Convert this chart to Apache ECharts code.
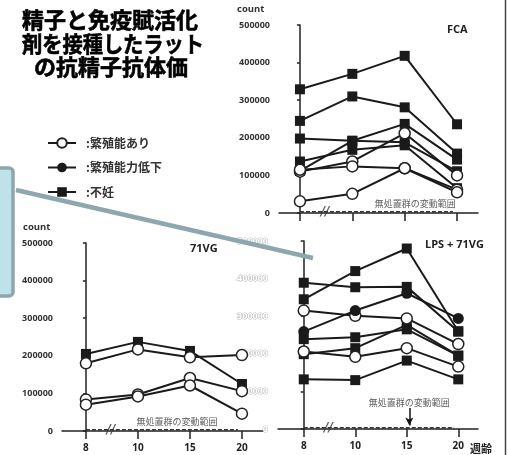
<!DOCTYPE html>
<html>
<head>
<meta charset="utf-8">
<script src="https://cdn.jsdelivr.net/npm/echarts@6/dist/echarts.min.js"></script>
<style>
  html, body { margin: 0; padding: 0; background: #fff; }
  #chart { width: 507px; height: 455px; }
</style>
</head>
<body>
<div id="chart"></div>
<script>
// Age in weeks at each bleed
const weeks = ['8', '10', '15', '20'];

// Group names (legend)
const FERTILE = '繁殖能あり';
const REDUCED = '繁殖能力低下';
const INFERTILE = '不妊';

// FCA group: antisperm antibody counts per rat
const fcaInfertile = [
  [329000, 370000, 418000, 236000],
  [245000, 310000, 281000, 158000],
  [198000, 192000, 188000, 111000],
  [137000, 168000, 180000, 66000],
  [112000, 192000, 237000, 142000]
];
const fcaFertile = [
  [110000, 137000, 212000, 100000],
  [115000, 124000, 119000, 62000],
  [31000, 51000, 119000, 55000]
];

// 71VG group
const vgInfertile = [
  [205000, 237000, 213000, 125000]
];
const vgFertile = [
  [180000, 217000, 196000, 202000],
  [84000, 97000, 141000, 106000],
  [70000, 92000, 121000, 46000]
];

// LPS + 71VG group
const lpsInfertile = [
  [345000, 420000, 480000, 260000],
  [389000, 377000, 378000, 259000],
  [239000, 244000, 265000, 195000],
  [199000, 215000, 277000, 195000],
  [132000, 130000, 182000, 132000]
];
const lpsReduced = [
  [259000, 315000, 361000, 294000]
];
const lpsFertile = [
  [315000, 301000, 294000, 226000],
  [206000, 192000, 215000, 166000]
];

// Untreated-control range drawn along the baseline
const controlLevel = 3000;
const controlSpan = [0, 2.92];
const controlText = '無処置群の変動範囲';

const LATIN = '"Open Sans", "Liberation Sans", sans-serif';
const CJK = '"Noto Sans CJK JP", sans-serif';
const INK = '#1a1a1a';

const chart = echarts.init(document.getElementById('chart'));

function lineSeries(name, values, gridIdx, kind) {
  const marker = {
    [INFERTILE]: { symbol: 'rect', symbolSize: 10, itemStyle: { color: INK, borderColor: INK, borderWidth: 0 } },
    [REDUCED]: { symbol: 'circle', symbolSize: 11, itemStyle: { color: INK, borderColor: INK, borderWidth: 0 } },
    [FERTILE]: { symbol: 'circle', symbolSize: 11, itemStyle: { color: '#fff', borderColor: '#222', borderWidth: 1.5 } }
  }[kind];
  return {
    type: 'line',
    name: name,
    xAxisIndex: gridIdx,
    yAxisIndex: gridIdx,
    data: values.map((v, i) => [i, v]),
    symbol: marker.symbol,
    symbolSize: marker.symbolSize,
    showSymbol: true,
    itemStyle: marker.itemStyle,
    lineStyle: { color: INK, width: 2 },
    animation: false,
    z: kind === INFERTILE ? 2 : 3
  };
}

function groupSeries(rows, gridIdx, kind) {
  return rows.map(r => lineSeries(kind, r, gridIdx, kind));
}

// Dashed baseline, axis break and caption for each panel
function controlSeries(gridIdx, captionAt, arrow) {
  return [{
    type: 'line',
    name: 'control-' + gridIdx,
    xAxisIndex: gridIdx, yAxisIndex: gridIdx,
    data: [[controlSpan[0], controlLevel], [controlSpan[1], controlLevel]],
    symbol: 'none',
    lineStyle: { color: '#333', width: 1.5, type: [4, 2] },
    silent: true, animation: false, z: 1
  }, {
    type: 'scatter',
    name: 'break-' + gridIdx,
    xAxisIndex: gridIdx, yAxisIndex: gridIdx,
    data: [[0.48, controlLevel]],
    symbolSize: 0,
    label: {
      show: true, position: 'inside', formatter: '//',
      fontSize: 12, fontStyle: 'italic', fontWeight: 'bold', color: '#333',
      fontFamily: 'DejaVu Sans'
    },
    silent: true, animation: false
  }, {
    type: 'scatter',
    name: 'caption-' + gridIdx,
    xAxisIndex: gridIdx, yAxisIndex: gridIdx,
    data: [captionAt],
    symbolSize: 0,
    label: {
      show: true, position: 'inside', formatter: controlText,
      fontSize: 9, color: '#333', fontFamily: CJK
    },
    silent: true, animation: false,
    markLine: arrow ? {
      silent: true, animation: false,
      symbol: ['none', 'arrow'], symbolSize: [6, 8],
      lineStyle: { color: '#111', width: 1.5, type: 'solid' },
      label: { show: false },
      data: [[{ coord: arrow[0] }, { coord: arrow[1] }]]
    } : undefined
  }];
}

function xAxisFor(gridIdx, min, max, showLabels) {
  return {
    type: 'value', gridIndex: gridIdx, min: min, max: max,
    splitLine: { show: false },
    axisLine: { show: true, lineStyle: { color: '#222', width: 1.5 } },
    axisTick: { show: true, customValues: [0, 1, 2, 3], length: 8, lineStyle: { color: '#222', width: 1.5 } },
    axisLabel: {
      show: showLabels, customValues: [0, 1, 2, 3], margin: 12,
      formatter: v => weeks[Math.round(v)] || '',
      fontSize: 10, fontWeight: 'bold', color: '#222', fontFamily: LATIN
    }
  };
}

function yAxisFor(gridIdx, ghost) {
  const label = ghost ? {
    fontSize: 9, fontWeight: 'bold', color: '#fff', textBorderColor: '#b5b5b5', textBorderWidth: 1,
    fontFamily: LATIN, margin: 10
  } : {
    fontSize: 9, fontWeight: 'bold', color: '#333', fontFamily: LATIN, margin: 9
  };
  label.formatter = v => String(v);
  return {
    type: 'value', gridIndex: gridIdx, min: 0, max: 500000, interval: 100000,
    splitLine: { show: false },
    axisLine: { show: true, lineStyle: { color: '#222', width: 1.5 } },
    axisTick: { show: true, length: 3, lineStyle: { color: '#222', width: 1.5 } },
    axisLabel: label
  };
}

const series = [].concat(
  groupSeries(fcaInfertile, 0, INFERTILE),
  groupSeries(fcaFertile, 0, FERTILE),
  controlSeries(0, [2.2, 24000], null),
  groupSeries(vgInfertile, 1, INFERTILE),
  groupSeries(vgFertile, 1, FERTILE),
  controlSeries(1, [1.75, 25000], null),
  groupSeries(lpsInfertile, 2, INFERTILE),
  groupSeries(lpsFertile, 2, FERTILE),
  groupSeries(lpsReduced, 2, REDUCED),
  controlSeries(2, [2.05, 69000], [[2.05, 56000], [2.05, 9000]])
);

const smallBold = 'bold 9.5px "Open Sans"';

const option = {
  backgroundColor: '#fff',
  animation: false,
  title: [
    { text: 'FCA', left: 447, top: 24, padding: 0, textStyle: { fontSize: 11, fontWeight: 'bold', color: '#222', fontFamily: LATIN } },
    { text: '71VG', left: 190, top: 243, padding: 0, textStyle: { fontSize: 11, fontWeight: 'bold', color: '#222', fontFamily: LATIN } },
    { text: 'LPS + 71VG', left: 425, top: 239, padding: 0, textStyle: { fontSize: 11, fontWeight: 'bold', color: '#222', fontFamily: LATIN } }
  ],
  legend: {
    data: [FERTILE, REDUCED, INFERTILE],
    orient: 'vertical', left: 47, top: 137,
    itemWidth: 28, itemHeight: 12, itemGap: 12.5,
    selectedMode: false, padding: 0,
    formatter: n => ':' + n,
    textStyle: { fontSize: 12, fontWeight: 'bold', color: '#333', fontFamily: CJK, padding: [0, 0, 0, 5] }
  },
  grid: [
    { left: 279, top: 25, width: 199, height: 188 },
    { left: 62, top: 243, width: 201, height: 188 },
    { left: 278, top: 241, width: 200, height: 188 }
  ],
  xAxis: [
    xAxisFor(0, -0.4, 3.4, false),
    xAxisFor(1, -0.46, 3.405, true),
    xAxisFor(2, -0.5, 3.383, true)
  ],
  yAxis: [
    yAxisFor(0, false),
    yAxisFor(1, false),
    yAxisFor(2, true)
  ],
  series: series,
  graphic: [
    // headline
    { type: 'text', z: 10, style: { x: 110, y: 9, text: '精子と免疫賦活化', textAlign: 'center', fill: '#000', stroke: '#000', lineWidth: 0.6, font: 'bold 22px "Noto Sans CJK JP"' } },
    { type: 'text', z: 10, x: 113, scaleX: 0.92, style: { x: 0, y: 32.5, text: '剤を接種したラット', textAlign: 'center', fill: '#000', stroke: '#000', lineWidth: 0.6, font: 'bold 22px "Noto Sans CJK JP"' } },
    { type: 'text', z: 10, style: { x: 111, y: 56, text: 'の抗精子抗体価', textAlign: 'center', fill: '#000', stroke: '#000', lineWidth: 0.6, font: 'bold 22px "Noto Sans CJK JP"' } },
    // axis unit captions
    { type: 'text', z: 10, style: { x: 237, y: 4, text: 'count', fill: '#333', font: smallBold } },
    { type: 'text', z: 10, style: { x: 23, y: 222, text: 'count', fill: '#333', font: smallBold } },
    // call-out box and its pointer
    { type: 'rect', z: 20, shape: { x: -12, y: 168, width: 25, height: 128, r: 4 }, style: { fill: '#bde3e9', stroke: '#8ea7af', lineWidth: 3.5 } },
    { type: 'line', z: 20, shape: { x1: 16, y1: 190, x2: 313, y2: 258 }, style: { stroke: '#8ea7af', lineWidth: 4.5 } },
    // frame edge
    { type: 'line', z: 20, shape: { x1: 505.5, y1: 0, x2: 505.5, y2: 455 }, style: { stroke: '#444', lineWidth: 1.5 } },
    // unit for the weeks axis
    { type: 'text', z: 10, style: { x: 470, y: 443, text: '週齢', fill: '#222', font: 'bold 11px "Noto Sans CJK JP"' } }
  ]
};

chart.setOption(option);
</script>
</body>
</html>
